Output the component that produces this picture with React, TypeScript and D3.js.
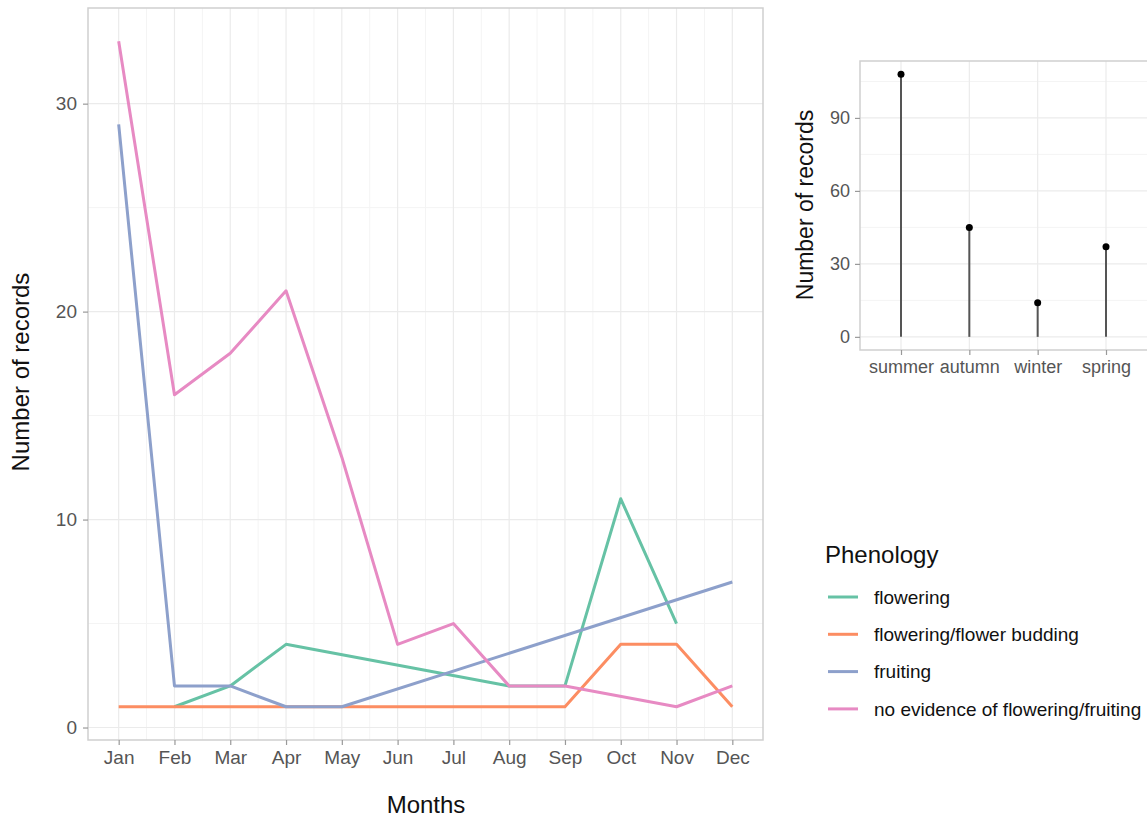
import { useEffect, useRef } from 'react'
import * as d3 from 'd3'

const months = ['Jan', 'Feb', 'Mar', 'Apr', 'May', 'Jun', 'Jul', 'Aug', 'Sep', 'Oct', 'Nov', 'Dec']
const phenology = ['flowering', 'flowering/flower budding', 'fruiting', 'no evidence of flowering/fruiting']
const colors = ['#66C2A5', '#FC8D62', '#8DA0CB', '#E78AC3']

// null = no records that month (line just skips it)
const flowering = [null, 1, 2, 4, null, null, null, 2, 2, 11, 5, null]
const budding = [1, 1, 1, 1, 1, 1, 1, 1, 1, 4, 4, 1]
const fruiting = [29, 2, 2, 1, 1, null, null, null, null, null, null, 7]
const noEvidence = [33, 16, 18, 21, 13, 4, 5, 2, 2, null, 1, 2]

const seasons = ['summer', 'autumn', 'winter', 'spring']
const seasonCounts = [108, 45, 14, 37]

const mainTicks = [0, 10, 20, 30]
const insetTicks = [0, 30, 60, 90]

const FONT = '"Liberation Sans", Arial, Helvetica, sans-serif'

export default function App() {
  const svgRef = useRef<SVGSVGElement>(null)

  useEffect(() => {
    if (!svgRef.current) return
    const svg = d3.select(svgRef.current)
    svg.selectAll('*').remove()

    // ---- main line chart ----
    const x = d3.scaleLinear().domain([0.45, 12.55]).range([88, 763])
    const y = d3.scaleLinear().domain([-0.6, 34.6]).range([740, 8])

    const g = svg.append('g')

    g.append('rect')
      .attr('x', 88).attr('y', 8).attr('width', 675).attr('height', 732)
      .attr('fill', 'white')

    // minor grid
    const minorX = d3.range(1.5, 12.5, 1)
    g.selectAll('.mgx').data(minorX).enter().append('line')
      .attr('x1', d => x(d)).attr('x2', d => x(d)).attr('y1', 8).attr('y2', 740)
      .attr('stroke', '#f4f4f4').attr('stroke-width', 1)
    g.selectAll('.mgy').data([5, 15, 25]).enter().append('line')
      .attr('x1', 88).attr('x2', 763).attr('y1', d => y(d)).attr('y2', d => y(d))
      .attr('stroke', '#f4f4f4').attr('stroke-width', 1)
    // major grid
    g.selectAll('.gx').data(d3.range(1, 13)).enter().append('line')
      .attr('x1', d => x(d)).attr('x2', d => x(d)).attr('y1', 8).attr('y2', 740)
      .attr('stroke', '#ebebeb').attr('stroke-width', 1.2)
    g.selectAll('.gy').data(mainTicks).enter().append('line')
      .attr('x1', 88).attr('x2', 763).attr('y1', d => y(d)).attr('y2', d => y(d))
      .attr('stroke', '#ebebeb').attr('stroke-width', 1.2)

    const series = [flowering, budding, fruiting, noEvidence]
    const line = d3.line<{ v: number | null; i: number }>()
      .x(p => x(p.i + 1))
      .y(p => y(p.v as number))

    series.forEach((s, k) => {
      // drop missing months so the line connects across them
      const pts = s.map((v, i) => ({ v, i })).filter(p => p.v !== null)
      g.append('path')
        .datum(pts)
        .attr('fill', 'none')
        .attr('stroke', colors[k])
        .attr('stroke-width', 3)
        .attr('stroke-linejoin', 'round')
        .attr('d', line)
    })

    g.append('rect')
      .attr('x', 88).attr('y', 8).attr('width', 675).attr('height', 732)
      .attr('fill', 'none').attr('stroke', '#cfcfcf').attr('stroke-width', 1.5)

    // axes
    const xAxis = g.append('g').attr('transform', 'translate(0,740)')
      .call(d3.axisBottom(x).tickValues(d3.range(1, 13)).tickFormat(d => months[(d as number) - 1]).tickSize(5).tickPadding(6))
    const yAxis = g.append('g').attr('transform', 'translate(88,0)')
      .call(d3.axisLeft(y).tickValues(mainTicks).tickSize(5).tickPadding(6))
    ;[xAxis, yAxis].forEach(a => {
      a.select('.domain').remove()
      a.selectAll('line').attr('stroke', '#999').attr('stroke-width', 1.2)
      a.selectAll('text').attr('fill', '#555').style('font-size', '19px').style('font-family', FONT)
    })

    g.append('text')
      .attr('x', 426).attr('y', 813)
      .attr('text-anchor', 'middle')
      .style('font-size', '24px').style('font-family', FONT).attr('fill', '#111')
      .text('Months')
    g.append('text')
      .attr('transform', `translate(29,372) rotate(-90)`)
      .attr('text-anchor', 'middle')
      .style('font-size', '24px').style('font-family', FONT).attr('fill', '#111')
      .text('Number of records')

    // ---- inset lollipop ----
    const xi = d3.scalePoint().domain(seasons).range([901, 1106])
    const yi = d3.scaleLinear().domain([-5.4, 113.4]).range([350, 61])
    const gi = svg.append('g')

    gi.append('rect').attr('x', 860).attr('y', 61).attr('width', 287).attr('height', 289).attr('fill', 'white')
    gi.selectAll('.mgy').data([15, 45, 75, 105]).enter().append('line')
      .attr('x1', 860).attr('x2', 1147).attr('y1', d => yi(d)).attr('y2', d => yi(d))
      .attr('stroke', '#f4f4f4').attr('stroke-width', 1)
    gi.selectAll('.gx').data(seasons).enter().append('line')
      .attr('x1', d => xi(d) as number).attr('x2', d => xi(d) as number).attr('y1', 61).attr('y2', 350)
      .attr('stroke', '#ebebeb').attr('stroke-width', 1.2)
    gi.selectAll('.gy').data(insetTicks).enter().append('line')
      .attr('x1', 860).attr('x2', 1147).attr('y1', d => yi(d)).attr('y2', d => yi(d))
      .attr('stroke', '#ebebeb').attr('stroke-width', 1.2)

    gi.selectAll('.stem').data(seasonCounts).enter().append('line')
      .attr('x1', (d, i) => xi(seasons[i]) as number).attr('x2', (d, i) => xi(seasons[i]) as number)
      .attr('y1', yi(0)).attr('y2', d => yi(d))
      .attr('stroke', '#555').attr('stroke-width', 2)
    gi.selectAll('.dot').data(seasonCounts).enter().append('circle')
      .attr('cx', (d, i) => xi(seasons[i]) as number).attr('cy', d => yi(d))
      .attr('r', 3.5).attr('fill', '#000')

    gi.append('rect').attr('x', 860).attr('y', 61).attr('width', 290).attr('height', 289)
      .attr('fill', 'none').attr('stroke', '#cfcfcf').attr('stroke-width', 1.5)

    const xiAxis = gi.append('g').attr('transform', 'translate(0,350)')
      .call(d3.axisBottom(xi).tickSize(5).tickPadding(5))
    const yiAxis = gi.append('g').attr('transform', 'translate(860,0)')
      .call(d3.axisLeft(yi).tickValues(insetTicks).tickSize(5).tickPadding(5))
    ;[xiAxis, yiAxis].forEach(a => {
      a.select('.domain').remove()
      a.selectAll('line').attr('stroke', '#999').attr('stroke-width', 1.2)
      a.selectAll('text').attr('fill', '#555').style('font-size', '18px').style('font-family', FONT)
    })
    gi.append('text')
      .attr('transform', `translate(813,205) rotate(-90)`)
      .attr('text-anchor', 'middle')
      .style('font-size', '23px').style('font-family', FONT).attr('fill', '#111')
      .text('Number of records')

    // ---- legend ----
    const lg = svg.append('g').attr('transform', 'translate(825,0)')
    lg.append('text')
      .attr('x', 0).attr('y', 563)
      .style('font-size', '24px').style('font-family', FONT).attr('fill', '#111')
      .text('Phenology')
    phenology.forEach((name, i) => {
      const yy = 597 + i * 37.3
      lg.append('line')
        .attr('x1', 3).attr('x2', 33).attr('y1', yy).attr('y2', yy)
        .attr('stroke', colors[i]).attr('stroke-width', 3)
      lg.append('text')
        .attr('x', 49).attr('y', yy).attr('dy', '0.35em')
        .style('font-size', '19px').style('font-family', FONT).attr('fill', '#111')
        .text(name)
    })
  }, [])

  return (
    <svg
      ref={svgRef}
      width={1147}
      height={818}
      style={{ position: 'absolute', left: 0, top: 0, background: 'white' }}
    />
  )
}
